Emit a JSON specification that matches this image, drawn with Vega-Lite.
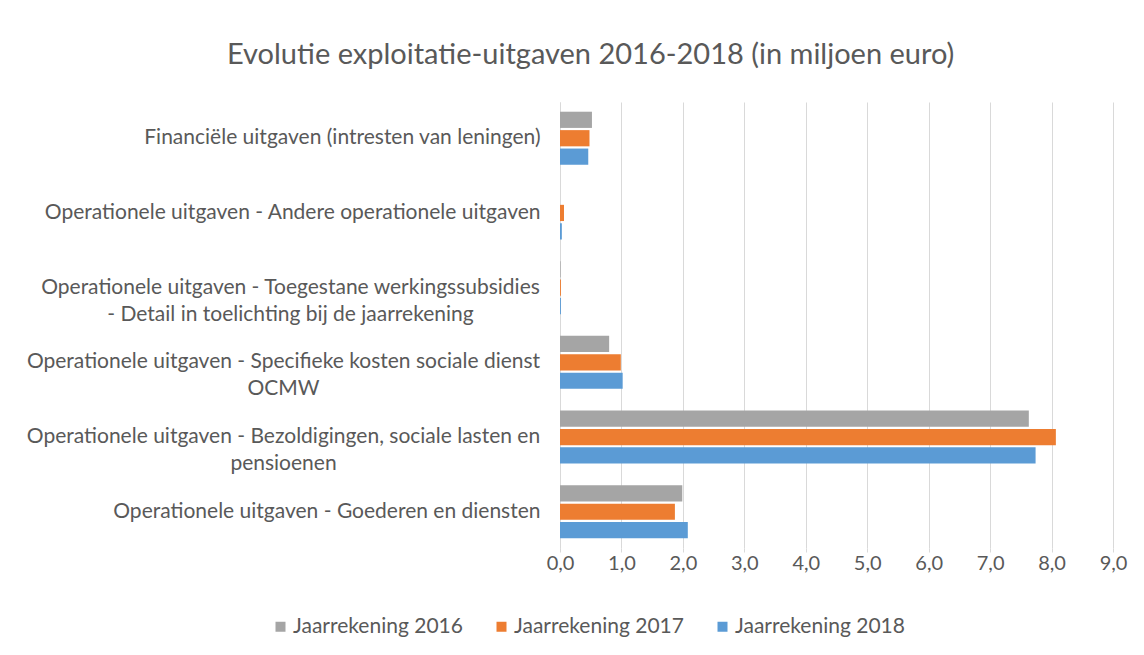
{
  "$schema": "https://vega.github.io/schema/vega-lite/v6.json",
  "width": 553,
  "height": 446,
  "autosize": {"type": "pad"},
  "padding": {"left": 26, "top": 41, "right": 10, "bottom": 10},
  "background": "white",
  "title": {
    "text": "Evolutie exploitatie-uitgaven 2016-2018 (in miljoen euro)",
    "font": "Lato",
    "fontSize": 29,
    "fontWeight": "normal",
    "color": "#595959",
    "anchor": "middle",
    "frame": "bounds",
    "dx": 14,
    "offset": 32
  },
  "data": {
    "values": [
      {"categorie": "Financiële uitgaven (intresten van leningen)", "reeks": "Jaarrekening 2016", "waarde": 0.52},
      {"categorie": "Financiële uitgaven (intresten van leningen)", "reeks": "Jaarrekening 2017", "waarde": 0.48},
      {"categorie": "Financiële uitgaven (intresten van leningen)", "reeks": "Jaarrekening 2018", "waarde": 0.46},
      {"categorie": "Operationele uitgaven - Andere operationele uitgaven", "reeks": "Jaarrekening 2016", "waarde": 0.0},
      {"categorie": "Operationele uitgaven - Andere operationele uitgaven", "reeks": "Jaarrekening 2017", "waarde": 0.065},
      {"categorie": "Operationele uitgaven - Andere operationele uitgaven", "reeks": "Jaarrekening 2018", "waarde": 0.03},
      {"categorie": "Operationele uitgaven  - Toegestane werkingssubsidies|- Detail in toelichting bij de jaarrekening", "reeks": "Jaarrekening 2016", "waarde": 0.01},
      {"categorie": "Operationele uitgaven  - Toegestane werkingssubsidies|- Detail in toelichting bij de jaarrekening", "reeks": "Jaarrekening 2017", "waarde": 0.015},
      {"categorie": "Operationele uitgaven  - Toegestane werkingssubsidies|- Detail in toelichting bij de jaarrekening", "reeks": "Jaarrekening 2018", "waarde": 0.015},
      {"categorie": "Operationele uitgaven - Specifieke kosten sociale dienst|OCMW", "reeks": "Jaarrekening 2016", "waarde": 0.80},
      {"categorie": "Operationele uitgaven - Specifieke kosten sociale dienst|OCMW", "reeks": "Jaarrekening 2017", "waarde": 0.99},
      {"categorie": "Operationele uitgaven - Specifieke kosten sociale dienst|OCMW", "reeks": "Jaarrekening 2018", "waarde": 1.02},
      {"categorie": "Operationele uitgaven - Bezoldigingen, sociale lasten en|pensioenen", "reeks": "Jaarrekening 2016", "waarde": 7.63},
      {"categorie": "Operationele uitgaven - Bezoldigingen, sociale lasten en|pensioenen", "reeks": "Jaarrekening 2017", "waarde": 8.07},
      {"categorie": "Operationele uitgaven - Bezoldigingen, sociale lasten en|pensioenen", "reeks": "Jaarrekening 2018", "waarde": 7.74},
      {"categorie": "Operationele uitgaven - Goederen en diensten", "reeks": "Jaarrekening 2016", "waarde": 1.99},
      {"categorie": "Operationele uitgaven - Goederen en diensten", "reeks": "Jaarrekening 2017", "waarde": 1.87},
      {"categorie": "Operationele uitgaven - Goederen en diensten", "reeks": "Jaarrekening 2018", "waarde": 2.08}
    ]
  },
  "mark": {"type": "bar"},
  "encoding": {
    "y": {
      "field": "categorie",
      "type": "nominal",
      "sort": null,
      "scale": {"paddingInner": 0.29, "paddingOuter": 0.13},
      "axis": {
        "title": null,
        "labelExpr": "split(datum.label, '|')",
        "labelFont": "Lato",
        "labelFontSize": 21,
        "labelColor": "#595959",
        "labelLineHeight": 27,
        "labelLimit": 700,
        "labelAlign": {
          "condition": {"test": "indexof(datum.value, '|') >= 0", "value": "center"},
          "value": "right"
        },
        "labelPadding": {
          "condition": [
            {"test": "indexof(datum.value, 'Toegestane') >= 0", "value": 270},
            {"test": "indexof(datum.value, '|') >= 0", "value": 277}
          ],
          "value": 20
        },
        "ticks": false,
        "domain": true,
        "domainColor": "#d9d9d9",
        "grid": false
      }
    },
    "x": {
      "field": "waarde",
      "type": "quantitative",
      "scale": {"domain": [0, 9], "nice": false},
      "axis": {
        "title": null,
        "values": [0, 1, 2, 3, 4, 5, 6, 7, 8, 9],
        "labelExpr": "replace(format(datum.value, '.1f'), '.', ',')",
        "labelFlush": false,
        "labelFont": "Lato",
        "labelFontSize": 20,
        "labelColor": "#595959",
        "labelPadding": 1,
        "grid": true,
        "gridColor": "#d9d9d9",
        "domain": false,
        "ticks": true,
        "tickSize": 4,
        "tickColor": "#d9d9d9"
      }
    },
    "yOffset": {"field": "reeks", "type": "nominal", "sort": "ascending", "scale": {"paddingInner": 0.12}},
    "color": {
      "field": "reeks",
      "type": "nominal",
      "scale": {
        "domain": ["Jaarrekening 2016", "Jaarrekening 2017", "Jaarrekening 2018"],
        "range": ["#A5A5A5", "#ED7D31", "#5B9BD5"]
      },
      "legend": {
        "title": null,
        "orient": "none",
        "legendX": -290,
        "legendY": 514,
        "direction": "horizontal",
        "symbolType": "square",
        "symbolSize": 100,
        "symbolStrokeWidth": 0,
        "labelFont": "Lato",
        "labelFontSize": 21,
        "labelLimit": 400,
        "labelColor": "#595959",
        "labelOffset": 2,
        "columnPadding": 28
      }
    }
  },
  "config": {"view": {"stroke": null}}
}
